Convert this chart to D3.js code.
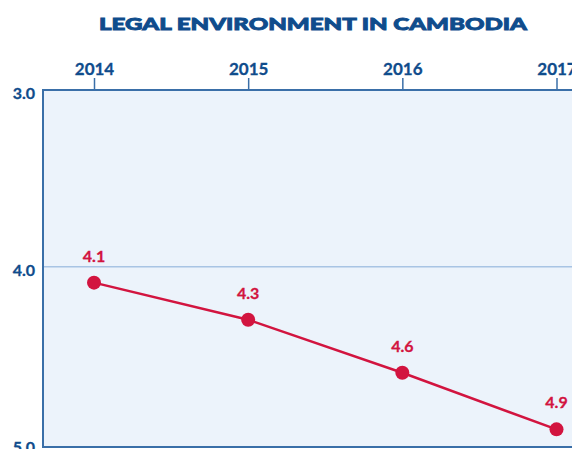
<!DOCTYPE html>
<html><head><meta charset="utf-8">
<script src="https://cdn.jsdelivr.net/npm/d3@7"></script>
<style>body{margin:0;background:#fff}svg{display:block}</style>
</head><body>
<script>
const title = "LEGAL ENVIRONMENT IN CAMBODIA";
const years = ["2014", "2015", "2016", "2017"];
const scores = [4.09, 4.30, 4.60, 4.92];
const yTicks = [3.0, 4.0, 5.0];

const W = 572, H = 449;
const svg = d3.select("body").append("svg").attr("width", W).attr("height", H);
const blue = "#0f4c8c", axisBlue = "#3a6fa8", red = "#d2143f";
const font = "Lato, 'Open Sans', sans-serif";

const x = d3.scalePoint().domain(years).range([94, 556.5]);
const y = d3.scaleLinear().domain([3, 5]).range([90, 443.5]);

const pLeft = 43, pTop = 90, pBottom = 447, pRight = 610;
svg.append("rect").attr("x", pLeft).attr("y", pTop).attr("width", pRight - pLeft).attr("height", pBottom - pTop).attr("fill", "#ecf3fb");

// grid at 4.0
svg.append("line").attr("x1", pLeft).attr("x2", pRight).attr("y1", y(4)).attr("y2", y(4))
  .attr("stroke", "#a8c4e4").attr("stroke-width", 1.5);

// borders
svg.append("line").attr("x1", pLeft).attr("x2", pRight).attr("y1", pTop).attr("y2", pTop).attr("stroke", axisBlue).attr("stroke-width", 2);
svg.append("line").attr("x1", pLeft).attr("x2", pRight).attr("y1", pBottom).attr("y2", pBottom).attr("stroke", axisBlue).attr("stroke-width", 2);
svg.append("line").attr("x1", pLeft).attr("x2", pLeft).attr("y1", pTop - 1).attr("y2", pBottom + 1).attr("stroke", axisBlue).attr("stroke-width", 2);

// top axis
const xAxis = svg.append("g").attr("transform", `translate(0,${pTop - 1})`)
  .call(d3.axisTop(x).tickSize(11).tickPadding(3));
xAxis.select(".domain").remove();
xAxis.selectAll(".tick line").attr("stroke", axisBlue).attr("stroke-width", 1.5);
xAxis.selectAll(".tick text").attr("fill", blue).attr("font-family", font).attr("font-weight", 700).attr("font-size", 17)
  .attr("stroke", blue).attr("stroke-width", 0.3);

// left axis
const yAxis = svg.append("g").attr("transform", `translate(${pLeft},0)`)
  .call(d3.axisLeft(y).tickValues(yTicks).tickFormat(d3.format(".1f")).tickSize(0).tickPadding(8));
yAxis.select(".domain").remove();
yAxis.selectAll(".tick text").attr("fill", blue).attr("font-family", font).attr("font-weight", 700).attr("font-size", 16)
  .attr("stroke", blue).attr("stroke-width", 0.3).attr("dy", "0.55em");

// title
svg.append("text").attr("x", 313).attr("y", 30).attr("text-anchor", "middle")
  .attr("fill", blue).attr("stroke", blue).attr("stroke-width", 0.9)
  .attr("font-family", font).attr("font-weight", 900).attr("font-size", 17.5)
  .attr("textLength", 428).attr("lengthAdjust", "spacingAndGlyphs").text(title);

const data = years.map((yr, i) => ({yr, v: scores[i]}));
svg.append("path").datum(data)
  .attr("d", d3.line().x(d => x(d.yr)).y(d => y(d.v)))
  .attr("fill", "none").attr("stroke", red).attr("stroke-width", 2.5);
svg.selectAll("circle.pt").data(data).join("circle").attr("class", "pt")
  .attr("cx", d => x(d.yr)).attr("cy", d => y(d.v)).attr("r", 7).attr("fill", red);
svg.selectAll("text.lbl").data(data).join("text").attr("class", "lbl")
  .attr("x", d => x(d.yr)).attr("y", d => y(d.v) - 21).attr("text-anchor", "middle")
  .attr("fill", red).attr("stroke", red).attr("stroke-width", 0.3)
  .attr("font-family", font).attr("font-weight", 700).attr("font-size", 16)
  .text(d => d3.format(".1f")(d.v));
</script>
</body></html>
